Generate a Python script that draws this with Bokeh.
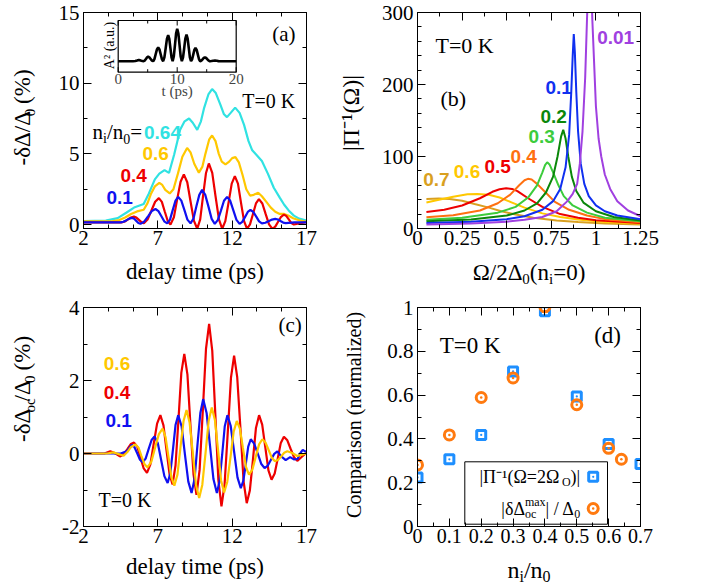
import math
from bokeh.plotting import figure
from bokeh.models import (Range1d, LinearAxis, FixedTicker, CustomJSTickFormatter,
                          Label, BoxAnnotation)
from bokeh.layouts import column, row
from bokeh.embed import file_html
from bokeh.resources import INLINE

# ---------------- data ----------------
# panel (a): -dDelta/Delta0 (%) vs delay time (ps); (t, value) pairs
a_064 = [(2.0,0.25),(3.5,0.28),(4.3,0.45),(4.9,0.85),(5.4,1.2),(6.05,1.45),(6.4,2.2),(6.8,3.2),
         (7.1,3.6),(7.45,3.85),(7.75,3.65),(8.1,4.95),(8.5,6.7),(8.8,7.3),(9.1,7.5),(9.35,7.2),
         (9.65,6.7),(9.9,7.3),(10.1,8.2),(10.4,9.2),(10.65,9.58),(10.9,9.3),(11.2,8.5),(11.45,7.8),
         (11.65,7.6),(11.9,7.9),(12.2,8.27),(12.5,7.9),(12.8,7.05),(13.1,5.9),(13.35,5.25),(13.7,4.85),
         (14.0,4.5),(14.4,3.6),(14.8,2.6),(15.2,1.9),(15.5,1.4),(15.8,1.0),(16.15,0.63),(16.5,0.42),(17.0,0.28)]
a_06 = [(2.0,0.22),(3.9,0.22),(4.4,0.32),(4.8,0.5),(5.2,0.75),(5.6,0.93),(6.05,1.05),(6.3,1.5),(6.55,2.2),
        (6.8,2.7),(7.1,2.95),(7.3,2.8),(7.5,2.45),(7.8,2.2),(8.05,2.5),(8.35,3.6),(8.65,4.8),(8.97,5.42),
        (9.2,5.1),(9.45,4.3),(9.76,3.67),(10.0,4.1),(10.2,5.0),(10.45,6.0),(10.65,6.3),(10.88,5.9),(11.1,5.0),
        (11.3,4.45),(11.55,4.25),(11.8,4.45),(12.0,4.7),(12.22,4.77),(12.45,4.4),(12.7,3.5),(12.95,2.5),
        (13.2,2.05),(13.45,2.1),(13.75,2.25),(14.0,2.0),(14.3,1.6),(14.6,1.2),(14.9,0.9),(15.2,0.75),
        (15.5,0.75),(15.8,0.62),(16.1,0.45),(16.5,0.3),(17.0,0.2)]
a_04 = [(2.0,0.16),(4.6,0.16),(4.8,0.22),(5.0,0.36),(5.19,0.50),(5.39,0.56),(5.56,0.49),(5.73,0.33),(5.89,0.17),
        (6.06,0.10),(6.31,0.36),(6.57,0.99),(6.82,1.61),(7.07,1.87),(7.27,1.60),(7.46,0.94),(7.66,0.27),(7.85,0.0),
        (8.08,0.52),(8.3,1.78),(8.53,3.03),(8.75,3.55),(8.98,2.99),(9.2,1.63),(9.43,0.26),(9.65,-0.3),(9.85,0.37),
        (10.04,2.01),(10.24,3.65),(10.43,4.32),(10.66,3.65),(10.88,2.01),(11.11,0.37),(11.33,-0.3),(11.54,0.24),
        (11.76,1.57),(11.97,2.89),(12.18,3.43),(12.39,2.89),(12.59,1.57),(12.8,0.24),(13.0,-0.3),(13.2,0.01),
        (13.4,0.75),(13.6,1.49),(13.8,1.80),(14.03,1.49),(14.25,0.75),(14.48,0.01),(14.7,-0.3),(14.9,-0.15),
        (15.09,0.20),(15.29,0.55),(15.48,0.70),(15.65,0.60),(15.82,0.35),(15.98,0.10),(16.15,0.0),(16.5,0.08),(17.0,0.16)]
a_01 = [(2.0,0.15),(4.5,0.15),(4.69,0.20),(4.89,0.31),(5.08,0.42),(5.27,0.47),(5.41,0.41),(5.55,0.26),(5.69,0.11),
        (5.83,0.05),(6.08,0.20),(6.34,0.58),(6.59,0.95),(6.84,1.10),(7.04,0.95),(7.24,0.59),(7.43,0.23),(7.63,0.08),
        (7.82,0.35),(8.0,1.02),(8.19,1.69),(8.37,1.96),(8.58,1.69),(8.79,1.02),(8.99,0.35),(9.2,0.08),(9.4,0.43),
        (9.59,1.27),(9.79,2.10),(9.98,2.45),(10.19,2.10),(10.41,1.25),(10.62,0.40),(10.83,0.05),(11.04,0.33),
        (11.25,1.00),(11.45,1.68),(11.66,1.96),(11.87,1.68),(12.08,1.00),(12.29,0.33),(12.5,0.05),(12.68,0.19),
        (12.87,0.54),(13.05,0.89),(13.23,1.03),(13.42,0.89),(13.62,0.56),(13.81,0.22),(14.0,0.08),(14.23,0.13),
        (14.45,0.24),(14.68,0.35),(14.9,0.40),(15.08,0.36),(15.25,0.25),(15.43,0.14),(15.6,0.10),(16.2,0.15),(17.0,0.15)]
# inset of (a): A^2 (a.u.) vs t (ps)
inset_A2 = [(0,0),(2.5,0),(2.9,0.006),(3.2,0.02),(3.5,0.04),(3.8,0.02),(4.1,0.006),(4.3,0),
            (4.5,0.02),(4.7,0.07),(4.9,0.12),(5.08,0.14),(5.28,0.12),(5.5,0.07),(5.72,0.02),(5.93,0),
            (6.14,0.063),(6.35,0.215),(6.57,0.367),(6.78,0.43),(6.99,0.367),(7.2,0.215),(7.41,0.063),(7.62,0),
            (7.83,0.118),(8.05,0.405),(8.26,0.692),(8.47,0.81),(8.66,0.692),(8.85,0.405),(9.04,0.118),(9.23,0),
            (9.42,0.146),(9.62,0.5),(9.81,0.854),(10.0,1.0),(10.2,0.854),(10.4,0.5),(10.59,0.146),(10.79,0),
            (10.99,0.12),(11.19,0.41),(11.38,0.70),(11.58,0.82),(11.77,0.70),(11.96,0.41),(12.15,0.12),(12.34,0),
            (12.53,0.06),(12.72,0.205),(12.91,0.35),(13.1,0.41),(13.3,0.35),(13.5,0.205),(13.7,0.06),(13.9,0),
            (14.1,0.018),(14.3,0.06),(14.5,0.10),(14.7,0.12),(14.91,0.10),(15.12,0.06),(15.33,0.018),(15.55,0),
            (15.8,0.006),(16.1,0.015),(16.4,0.02),(16.7,0.012),(17.0,0.003),(17.3,0),(20,0)]

# panel (b): |Pi^-1(Omega)| vs Omega/2Delta0
b_001 = [(0.05,5.5),(0.3,7),(0.5,9.5),(0.6,12),(0.7,16),(0.78,24),(0.84,38),(0.87,48),(0.895,62),(0.91,90),
         (0.925,135),(0.94,210),(0.95,290),(0.958,350),(0.965,380),(0.972,350),(0.98,290),(0.99,230),(1.0,170),
         (1.015,125),(1.03,100),(1.05,75),(1.08,55),(1.12,38),(1.18,25),(1.25,17)]
b_01 = [(0.05,7.7),(0.3,9.5),(0.5,13),(0.6,17),(0.7,26),(0.76,38),(0.8,55),(0.83,85),(0.85,130),(0.862,190),
        (0.87,240),(0.876,270),(0.882,245),(0.89,190),(0.9,135),(0.915,90),(0.935,62),(0.96,45),(1.0,32),
        (1.05,24),(1.12,18),(1.25,13)]
b_02 = [(0.05,10),(0.3,12.5),(0.5,18),(0.6,25),(0.67,35),(0.72,50),(0.76,72),(0.785,100),(0.805,128),(0.817,137),
        (0.83,125),(0.845,100),(0.865,72),(0.89,52),(0.93,36),(1.0,24),(1.1,16),(1.25,11)]
b_03 = [(0.05,12),(0.25,15),(0.45,22),(0.55,30),(0.62,43),(0.67,60),(0.7,78),(0.715,88),(0.727,92),(0.74,89),
        (0.76,78),(0.79,60),(0.82,45),(0.87,32),(0.95,22),(1.05,15),(1.25,10)]
b_04 = [(0.05,15.5),(0.2,18.5),(0.35,25),(0.45,35),(0.52,47),(0.57,60),(0.6,67),(0.619,69),(0.64,68),(0.67,62),
        (0.71,52),(0.77,37),(0.85,26),(0.95,18),(1.05,13),(1.25,8.6)]
b_05 = [(0.05,23),(0.15,26),(0.25,32),(0.35,42),(0.42,51),(0.46,54.5),(0.497,56),(0.53,55),(0.56,52),(0.62,42),
        (0.7,30),(0.8,20),(0.9,15),(1.0,11.5),(1.25,7.7)]
b_06 = [(0.05,36),(0.12,40),(0.2,44),(0.28,47.5),(0.335,48),(0.4,47),(0.46,43),(0.53,36),(0.6,29),(0.7,21),
        (0.8,16),(0.9,12.5),(1.05,9),(1.25,6.8)]
b_07 = [(0.05,41),(0.12,41.5),(0.18,41),(0.25,38.5),(0.32,34),(0.4,29),(0.47,24),(0.55,19.5),(0.65,15),
        (0.78,11),(0.9,9),(1.05,7),(1.25,5.5)]

# panel (c): -dDelta_oc/Delta0 (%) vs delay time (ps)
c_04 = [(2.0,0.0),(3.4,0.0),(3.8,0.06),(4.1,0.01),(4.45,-0.08),(4.7,-0.03),(4.95,0.12),(5.18,0.26),(5.4,0.30),
        (5.62,0.18),(5.84,-0.12),(6.05,-0.41),(6.27,-0.53),(6.5,-0.30),(6.72,0.26),(6.95,0.82),(7.17,1.05),
        (7.38,0.77),(7.58,0.10),(7.79,-0.57),(7.99,-0.85),(8.19,-0.33),(8.39,0.94),(8.58,2.21),(8.78,2.73),
        (8.99,2.17),(9.19,0.80),(9.4,-0.57),(9.6,-1.13),(9.81,-0.45),(10.03,1.21),(10.24,2.87),(10.45,3.55),
        (10.66,2.82),(10.87,1.05),(11.07,-0.72),(11.28,-1.45),(11.49,-0.85),(11.71,0.62),(11.92,2.08),(12.13,2.68),
        (12.34,2.09),(12.56,0.66),(12.77,-0.77),(12.98,-1.36),(13.19,-1.01),(13.4,-0.16),(13.6,0.70),(13.81,1.05),
        (14.02,0.79),(14.23,0.17),(14.44,-0.46),(14.65,-0.72),(14.86,-0.55),(15.07,-0.13),(15.27,0.29),(15.48,0.46),
        (15.71,0.36),(15.93,0.13),(16.16,-0.10),(16.38,-0.20),(16.69,-0.09),(17.0,0.02)]
c_01 = [(2.0,0.0),(4.0,0.0),(4.5,0.0),(4.9,0.06),(5.25,0.24),(5.43,0.17),(5.62,0.0),(5.8,-0.17),(5.98,-0.24),
        (6.18,-0.14),(6.38,0.12),(6.58,0.37),(6.78,0.47),(7.0,0.28),(7.22,-0.17),(7.44,-0.62),(7.66,-0.81),
        (7.84,-0.54),(8.02,0.12),(8.19,0.78),(8.37,1.05),(8.6,0.74),(8.82,-0.02),(9.05,-0.77),(9.27,-1.08),
        (9.47,-0.70),(9.66,0.21),(9.86,1.11),(10.05,1.49),(10.28,1.11),(10.51,0.21),(10.74,-0.70),(10.97,-1.08),
        (11.15,-0.77),(11.33,-0.02),(11.5,0.74),(11.68,1.05),(11.9,0.76),(12.13,0.05),(12.36,-0.66),(12.58,-0.95),
        (12.75,-0.75),(12.92,-0.28),(13.08,0.19),(13.25,0.39),(13.48,0.27),(13.72,0.0),(13.95,-0.28),(14.18,-0.40),
        (14.4,-0.33),(14.61,-0.17),(14.83,-0.01),(15.04,0.06),(15.3,-0.08),(15.6,-0.18),(15.9,-0.10),(16.15,-0.16),
        (16.4,-0.15),(16.6,0.02),(16.75,0.10),(16.9,0.06),(17.0,0.05)]
c_06 = [(2.0,0.0),(3.6,0.0),(4.0,0.03),(4.4,-0.02),(4.7,-0.06),(4.95,0.04),(5.2,0.18),(5.5,0.25),(5.7,0.16),
        (5.9,-0.07),(6.1,-0.29),(6.3,-0.38),(6.56,-0.23),(6.81,0.15),(7.07,0.53),(7.32,0.68),(7.52,0.45),
        (7.72,-0.10),(7.91,-0.65),(8.11,-0.88),(8.32,-0.58),(8.52,0.16),(8.73,0.89),(8.93,1.19),(9.14,0.84),
        (9.36,-0.02),(9.57,-0.87),(9.78,-1.22),(9.99,-0.86),(10.21,0.02),(10.42,0.90),(10.63,1.26),(10.84,0.92),
        (11.05,0.10),(11.25,-0.73),(11.46,-1.07),(11.67,-0.78),(11.89,-0.09),(12.1,0.60),(12.31,0.89),(12.52,0.68),
        (12.72,0.16),(12.93,-0.37),(13.13,-0.58),(13.36,-0.44),(13.58,-0.10),(13.81,0.25),(14.03,0.39),(14.24,0.30),
        (14.46,0.09),(14.67,-0.12),(14.88,-0.21),(15.09,-0.17),(15.3,-0.08),(15.5,0.02),(15.71,0.06),(16.0,0.02),
        (16.38,-0.07),(16.7,-0.03),(17.0,0.0)]

# panel (d): comparison (normalized) vs n_i/n_0
d_ni_sq = [0.0, 0.1, 0.2, 0.3, 0.4, 0.5, 0.6, 0.7]
d_pi_inv = [0.224, 0.307, 0.418, 0.708, 0.983, 0.594, 0.377, 0.285]
d_ni_ci = [0.0, 0.1, 0.2, 0.3, 0.4, 0.5, 0.6, 0.64]
d_delta_oc = [0.281, 0.418, 0.589, 0.678, 1.003, 0.556, 0.357, 0.307]

# tick values / labels
a_xticks = [2, 7, 12, 17];        a_xlabels = ["2", "7", "12", "17"]
a_yticks = [0, 5, 10, 15];        a_ylabels = ["0", "5", "10", "15"]
b_xticks = [0, 0.25, 0.5, 0.75, 1.0, 1.25]; b_xlabels = ["0", "0.25", "0.5", "0.75", "1", "1.25"]
b_yticks = [0, 100, 200, 300];    b_ylabels = ["0", "100", "200", "300"]
c_yticks = [-2, 0, 2, 4];         c_ylabels = ["-2", "0", "2", "4"]
d_xticks = [0, 0.1, 0.2, 0.3, 0.4, 0.5, 0.6, 0.7]
d_xlabels = ["0", "0.1", "0.2", "0.3", "0.4", "0.5", "0.6", "0.7"]
d_yticks = [0, 0.2, 0.4, 0.6, 0.8, 1.0]; d_ylabels = ["0", "0.2", "0.4", "0.6", "0.8", "1"]
inset_xticks = [0, 10, 20];       inset_xlabels = ["0", "10", "20"]
inset_xminor = [5, 15]

# ---------------- styling / layout ----------------
SERIF = "Liberation Serif"
SANS = "Liberation Sans"
CYAN = "#30E2E2"; GOLD = "#FFC800"; RED = "#EE0000"; BLUE = "#1010F0"
PURPLE = "#A040E0"; BBLUE = "#1030F0"; DKGREEN = "#0A870A"; LTGREEN = "#3CCC3C"
ORANGE = "#FF7010"; GOLDENROD = "#D9A020"
SQCOL = "#1E8FFF"; CICOL = "#FF7A10"
ROT = math.pi / 2      # rotation used for vertical texts (reads bottom to top)
SUBDIR = 1             # screen-x direction of "below the baseline" for rotated text

# plot frames in page pixels; cell = (x, y, w, h) of the figure canvas
FR = {
    "a": dict(cell=(40, 0, 295, 258), left=83, top=12, w=223, h=216, x=(2, 17), y=(-0.28, 15)),
    "b": dict(cell=(372, 0, 332, 258), left=417, top=12, w=223, h=217, x=(0, 1.25), y=(0, 300)),
    "c": dict(cell=(40, 293, 295, 261), left=83, top=307, w=223, h=219, x=(2, 17), y=(-2, 4)),
    "d": dict(cell=(372, 293, 332, 261), left=417, top=307, w=223, h=219, x=(0, 0.7), y=(0, 1)),
}

def to_data(k, px, py):
    if k is None:
        return px, py
    f = FR[k]
    x0, x1 = f["x"]; y0, y1 = f["y"]
    return (x0 + (px - f["left"]) / f["w"] * (x1 - x0),
            y1 - (py - f["top"]) / f["h"] * (y1 - y0))

def fmt(ticks, labels):
    return CustomJSTickFormatter(args=dict(tv=list(ticks), tl=list(labels)), code="""
for (let i = 0; i < tv.length; i++) { if (Math.abs(tv[i] - tick) < 1e-6) return tl[i]; }
return "";
""")

def style_axis(ax, ticks, minor, labels=None, size="21px", standoff=4):
    ax.ticker = FixedTicker(ticks=list(ticks), minor_ticks=list(minor))
    ax.major_tick_in = 8; ax.major_tick_out = 0
    ax.minor_tick_in = 4; ax.minor_tick_out = 0
    ax.axis_line_color = "black"; ax.axis_line_width = 1
    ax.major_tick_line_color = "black"; ax.minor_tick_line_color = "black"
    ax.axis_label = None
    if labels is not None:
        ax.formatter = fmt(ticks, labels)
        ax.major_label_text_font = SERIF
        ax.major_label_text_font_size = size
        ax.major_label_text_color = "black"
        ax.major_label_standoff = standoff
    else:
        ax.formatter = CustomJSTickFormatter(code="return '';")
        ax.major_label_text_font_size = "1px"
        ax.major_label_standoff = 0

def make_fig(k, xt, xm, xl, yt, ym, yl, xsize="21px"):
    f = FR[k]
    cx, cy, cw, ch = f["cell"]
    left = f["left"] - cx; top = f["top"] - cy
    right = cw - left - f["w"]; bottom = ch - top - f["h"]
    p = figure(width=cw, height=ch, x_range=Range1d(*f["x"]), y_range=Range1d(*f["y"]),
               output_backend="svg", toolbar_location=None,
               min_border_left=left, min_border_right=right,
               min_border_top=top, min_border_bottom=bottom)
    p.grid.visible = False
    p.outline_line_color = "black"; p.outline_line_width = 1
    p.background_fill_color = "white"; p.border_fill_color = "white"
    style_axis(p.xaxis[0], xt, xm, xl, size=xsize, standoff=2)
    style_axis(p.yaxis[0], yt, ym, yl, standoff=4)
    top_ax = LinearAxis(); right_ax = LinearAxis()
    p.add_layout(top_ax, "above"); p.add_layout(right_ax, "right")
    style_axis(top_ax, xt, xm, None)
    style_axis(right_ax, yt, ym, None)
    return p

def text_fig(x0, y0, w, h):
    """A bare canvas whose data coordinates are page pixels (y downward); holds outer axis titles."""
    p = figure(width=w, height=h, x_range=Range1d(x0, x0 + w), y_range=Range1d(y0 + h, y0),
               output_backend="svg", toolbar_location=None, x_axis_type=None, y_axis_type=None,
               min_border_left=0, min_border_right=0, min_border_top=0, min_border_bottom=0)
    p.outline_line_color = None
    p.background_fill_color = "white"; p.border_fill_color = "white"
    return p

W = {' ': 0.25, '(': 0.333, ')': 0.333, '%': 0.833, '/': 0.278, '-': 0.333, '=': 0.564, '|': 0.2,
     '.': 0.25, 'δ': 0.5, 'Δ': 0.612, 'Ω': 0.768, 'Π': 0.722, 'n': 0.5, 'i': 0.278, 'o': 0.5,
     'c': 0.444, 'm': 0.778, 'a': 0.444, 'x': 0.5, 'O': 0.722, '⁻': 0.4, '¹': 0.33}

def tw(s, size):
    return sum(W.get(ch, 0.5) for ch in s) * size

def label(p, k, px, py, text, size, color="black", font=SERIF, align="left",
          baseline="middle", bold=False, angle=0.0):
    x, y = to_data(k, px, py)
    p.add_layout(Label(x=x, y=y, text=text, text_font=font, text_font_size=f"{size}px",
                       text_color=color, text_align=align, text_baseline=baseline,
                       text_font_style="bold" if bold else "normal", angle=angle))

def compose(p, k, pieces, px, py, anchor="left"):
    """horizontal run of pieces (text, size, centre shift px[, advance]) centred on line py"""
    advs = [pc[3] if len(pc) > 3 else tw(pc[0], pc[1]) for pc in pieces]
    total = sum(advs)
    pos = {"left": 0.0, "center": -total / 2, "right": -total}[anchor]
    for pc, adv in zip(pieces, advs):
        if pc[0]:
            label(p, k, px + pos, py + pc[2], pc[0], pc[1], baseline="middle")
        pos += adv

def compose_v(p, k, pieces, px, py_start):
    """vertical run reading upward from py_start; px is the centre line of the text body"""
    pos = 0.0
    for pc in pieces:
        adv = pc[3] if len(pc) > 3 else tw(pc[0], pc[1])
        if pc[0]:
            label(p, k, px + SUBDIR * pc[2], py_start - pos - adv / 2, pc[0], pc[1],
                  align="center", baseline="middle", angle=ROT)
        pos += adv

def xy(pairs):
    return [q[0] for q in pairs], [q[1] for q in pairs]

def minors(majors, n):
    out = []
    for a, b in zip(majors[:-1], majors[1:]):
        out += [a + (b - a) * j / n for j in range(1, n)]
    return out

# ---------------- panel (a) ----------------
pa = make_fig("a", a_xticks, minors(a_xticks, 3), a_xlabels, a_yticks, minors(a_yticks, 2), a_ylabels)
for data, col in [(a_064, CYAN), (a_06, GOLD), (a_04, RED), (a_01, BLUE)]:
    xs, ys = xy(data)
    pa.line(xs, ys, line_color=col, line_width=2.2)

# inset: its own ranges placed on the box (117.7,20)-(235.7,71.7) px
IN_BOX = (117.7, 20.0, 235.7, 71.7)
IN_X = (0, 20); IN_Y = (-0.34, 1.26)
fa = FR["a"]
kx = (IN_X[1] - IN_X[0]) / (IN_BOX[2] - IN_BOX[0])
ky = (IN_Y[1] - IN_Y[0]) / (IN_BOX[3] - IN_BOX[1])
pa.extra_x_ranges = {"ix": Range1d(IN_X[0] - (IN_BOX[0] - fa["left"]) * kx,
                                   IN_X[0] + (fa["left"] + fa["w"] - IN_BOX[0]) * kx)}
pa.extra_y_ranges = {"iy": Range1d(IN_Y[0] - (fa["top"] + fa["h"] - IN_BOX[3]) * ky,
                                   IN_Y[0] + (IN_BOX[3] - fa["top"]) * ky)}
pa.quad(left=IN_X[0], right=IN_X[1], bottom=IN_Y[0], top=IN_Y[1], x_range_name="ix", y_range_name="iy",
        fill_color="white", line_color="black", line_width=1.2)
ix, iy = xy(inset_A2)
pa.line(ix, iy, x_range_name="ix", y_range_name="iy", line_color="black", line_width=2.6)
for ticks, ln in [(inset_xticks, 5), (inset_xminor, 3)]:
    L = ln * ky
    pa.segment(x0=ticks, y0=[IN_Y[0]] * len(ticks), x1=ticks, y1=[IN_Y[0] + L] * len(ticks),
               x_range_name="ix", y_range_name="iy", line_color="black", line_width=1)
    pa.segment(x0=ticks, y0=[IN_Y[1]] * len(ticks), x1=ticks, y1=[IN_Y[1] - L] * len(ticks),
               x_range_name="ix", y_range_name="iy", line_color="black", line_width=1)
for t, lab in zip(inset_xticks, inset_xlabels):
    pa.add_layout(Label(x=t, y=IN_Y[0], x_range_name="ix", y_range_name="iy", text=lab, y_offset=-2,
                        text_font=SERIF, text_font_size="15px", text_align="center", text_baseline="top"))
pa.add_layout(Label(x=10, y=IN_Y[0] - (90 - IN_BOX[3]) * ky, x_range_name="ix", y_range_name="iy",
                    text="t (ps)", text_font=SERIF, text_font_size="15px", text_align="center",
                    text_baseline="middle"))
label(pa, "a", 109, 45, "A² (a.u.)", 14, align="center", baseline="middle", angle=ROT)

label(pa, "a", 271.7, 33, "(a)", 21)
label(pa, "a", 241.7, 100, "T=0 K", 20)
compose(pa, "a", [("n", 21, 0), ("i", 14, 6.5), ("/n", 21, 0), ("0", 14, 6.5), ("=", 21, 0)], 92, 131.7)
label(pa, "a", 143.5, 131.7, "0.64", 19, CYAN, SANS, bold=True)
label(pa, "a", 142, 153, "0.6", 19, GOLD, SANS, bold=True)
label(pa, "a", 120, 175, "0.4", 19, RED, SANS, bold=True)
label(pa, "a", 106, 197, "0.1", 19, BLUE, SANS, bold=True)

# ---------------- panel (b) ----------------
pb = make_fig("b", b_xticks, minors(b_xticks, 2), b_xlabels, b_yticks, minors(b_yticks, 5), b_ylabels)
for data, col in [(b_07, GOLDENROD), (b_06, GOLD), (b_05, RED), (b_04, ORANGE), (b_03, LTGREEN),
                  (b_02, DKGREEN), (b_01, BBLUE), (b_001, PURPLE)]:
    xs, ys = xy(data)
    pb.line(xs, ys, line_color=col, line_width=2)
label(pb, "b", 435, 45, "T=0 K", 22)
label(pb, "b", 440, 98, "(b)", 22)
for txt, px, py, col in [("0.01", 596.7, 36.7, PURPLE), ("0.1", 545, 87.3, BBLUE), ("0.2", 540, 116.7, DKGREEN),
                         ("0.3", 528, 136.7, LTGREEN), ("0.4", 510, 156.7, ORANGE), ("0.5", 484, 166.7, RED),
                         ("0.6", 453.3, 171.7, GOLD), ("0.7", 422.7, 180, GOLDENROD)]:
    label(pb, "b", px, py, txt, 19, col, SANS, bold=True)

# ---------------- panel (c) ----------------
pc = make_fig("c", a_xticks, minors(a_xticks, 3), a_xlabels, c_yticks, minors(c_yticks, 2), c_ylabels)
for data, col in [(c_04, RED), (c_01, BLUE), (c_06, GOLD)]:
    xs, ys = xy(data)
    pc.line(xs, ys, line_color=col, line_width=2.2)
label(pc, "c", 278, 324.7, "(c)", 21)
label(pc, "c", 98, 499, "T=0 K", 20)
label(pc, "c", 103.3, 363.3, "0.6", 19, GOLD, SANS, bold=True)
label(pc, "c", 103.3, 391.7, "0.4", 19, RED, SANS, bold=True)
label(pc, "c", 105, 420, "0.1", 19, BLUE, SANS, bold=True)

# ---------------- panel (d) ----------------
pd_ = make_fig("d", d_xticks, minors(d_xticks, 2), d_xlabels, d_yticks, minors(d_yticks, 2), d_ylabels,
               xsize="20px")
pd_.scatter(d_ni_sq, d_pi_inv, marker="square_dot", size=9, line_width=3, line_color=SQCOL, fill_color=None)
pd_.scatter(d_ni_ci, d_delta_oc, marker="circle_dot", size=10, line_width=3, line_color=CICOL, fill_color=None)
label(pd_, "d", 439.3, 344.7, "T=0 K", 23)
label(pd_, "d", 593.7, 334.7, "(d)", 23)
lx0, ly0 = to_data("d", 464.3, 523.7)
lx1, ly1 = to_data("d", 607.0, 461.3)
pd_.add_layout(BoxAnnotation(left=lx0, right=lx1, bottom=ly0, top=ly1, fill_color=None,
                             line_color="black", line_width=1, line_alpha=1))
mx, my1 = to_data("d", 592.7, 476.3)
_, my2 = to_data("d", 592.7, 508.0)
pd_.scatter([mx], [my1], marker="square_dot", size=9, line_width=3, line_color=SQCOL, fill_color=None)
pd_.scatter([mx], [my2], marker="circle_dot", size=10, line_width=3, line_color=CICOL, fill_color=None)
compose(pd_, "d", [("|Π⁻¹(Ω=2Ω", 18, 0), ("O", 12, 5.6), (")|", 18, 0)], 579.7, 476.3, anchor="right")
compose(pd_, "d", [("|δΔ", 18, 0), ("max", 12, -6.5, 0), ("oc", 12, 5.6, tw("max", 12)),
                   ("| / Δ", 18, 0), ("0", 12, 5.6)], 579.7, 508.0, anchor="right")

# ---------------- outer axis titles (own canvases, page-pixel coordinates) ----------------
la = text_fig(0, 0, 40, 258)
compose_v(la, None, [("-δΔ/Δ", 23, 0), ("0", 15, 7), ("", 0, 0, 10), ("(%)", 23, 0)], 22, 177)
lb = text_fig(335, 0, 37, 258)
label(lb, None, 350, 120, "|Π⁻¹(Ω)|", 24, align="center", baseline="middle", angle=ROT)
xa = text_fig(0, 258, 335, 35)
label(xa, None, 194.5, 271, "delay time (ps)", 23, align="center")
xb = text_fig(335, 258, 369, 35)
compose(xb, None, [("Ω/2Δ", 23, 0), ("0", 15, 7), ("(n", 23, 0), ("i", 15, 7), ("=0)", 23, 0)],
        528.5, 271.5, anchor="center")
lc = text_fig(0, 293, 40, 261)
compose_v(lc, None, [("-δΔ", 23, 0), ("oc", 15, 7), ("/Δ", 23, 0), ("0", 15, 7), ("", 0, 0, 10),
                     ("(%)", 23, 0)], 22, 450)
ld = text_fig(335, 293, 37, 261)
label(ld, None, 353, 421, "Comparison (normalized)", 20, align="center", baseline="middle", angle=ROT)
xc = text_fig(0, 554, 335, 32)
label(xc, None, 194.5, 566, "delay time (ps)", 23, align="center")
xd = text_fig(335, 554, 369, 32)
compose(xd, None, [("n", 24, 0), ("i", 16, 7), ("/n", 24, 0), ("0", 16, 7)], 528.5, 569, anchor="center")

page = column(row(la, pa, lb, pb), row(xa, xb), row(lc, pc, ld, pd_), row(xc, xd))
open("out.html", "w").write(file_html(page, INLINE))
